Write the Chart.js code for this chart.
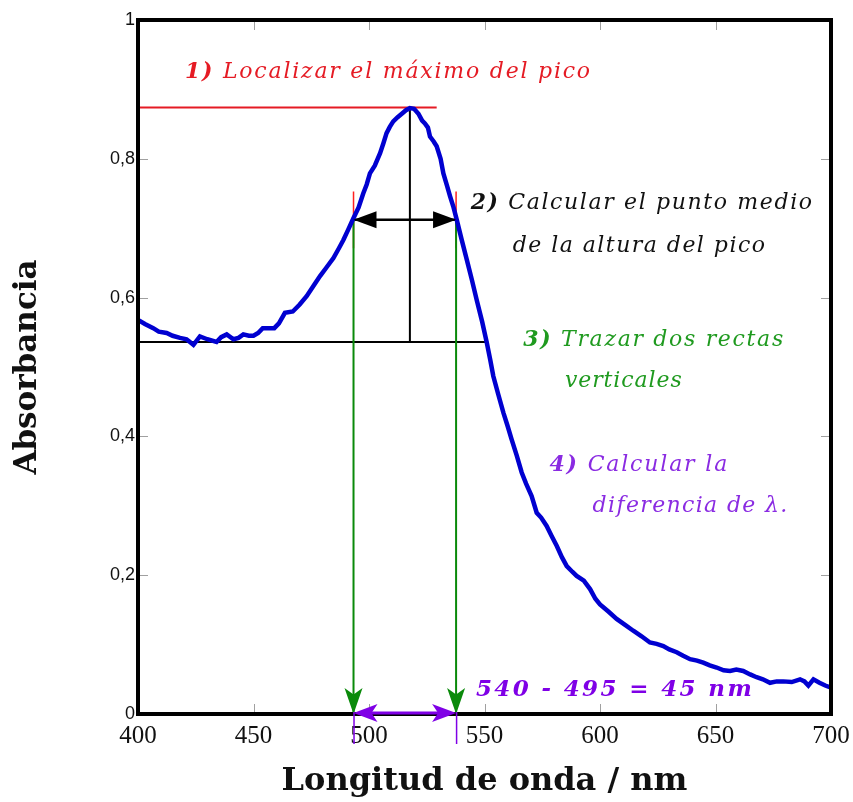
<!DOCTYPE html>
<html>
<head>
<meta charset="utf-8">
<script src="https://cdn.jsdelivr.net/npm/chart.js@4.4.0/dist/chart.umd.min.js"></script>
<style>
  html, body { margin: 0; padding: 0; background: #fff; }
</style>
</head>
<body>
<canvas id="chart1" width="853" height="802"></canvas>
<script>
// spectrum (nm, absorbance)
const wavelengths = [400, 403, 406.6, 409, 412.4, 415, 418.2, 421, 424, 426.8, 430, 434, 436, 438.4, 441.3, 443.5,
  445.6, 448, 450, 452, 454, 457, 459, 461, 463.6, 467, 470, 473, 476, 478.8, 481.5, 484.6, 486.8, 488.9, 491,
  493.2, 495.5, 497.5, 499, 500.4, 502.5, 504.8, 506.2, 507.6, 509, 510.5, 512.4, 514.2, 516, 517.7, 519.5,
  521.4, 523, 524.2, 525.5, 526.4, 528, 529.3, 531, 532.2, 533.7, 535.1, 536.6, 538, 540, 542.3, 544.5, 546.6,
  549, 551, 552.5, 553.8, 556, 558.2, 560, 561.7, 564, 566.1, 568, 570.4, 572.6, 574.5, 576.9, 579, 581.3,
  583.5, 585.6, 588, 589.9, 593, 595.7, 598, 600, 603.5, 607.2, 611, 614.4, 618, 621.6, 624.5, 627.4, 630,
  633.2, 636, 639, 642, 644.7, 647.5, 650.5, 653.5, 656.3, 659, 662, 665, 667.8, 670.5, 673.6, 676.5, 679.3,
  683, 686.6, 688.5, 690.2, 692.4, 695, 697.5, 700];
const absorbance = [0.568, 0.562, 0.556, 0.551, 0.549, 0.545, 0.542, 0.540, 0.532, 0.544, 0.540, 0.536, 0.543,
  0.547, 0.540, 0.542, 0.547, 0.545, 0.545, 0.549, 0.556, 0.556, 0.556, 0.563, 0.578, 0.580, 0.590, 0.602,
  0.617, 0.631, 0.643, 0.657, 0.670, 0.683, 0.698, 0.714, 0.730, 0.750, 0.763, 0.779, 0.790, 0.808, 0.822,
  0.837, 0.846, 0.854, 0.860, 0.865, 0.870, 0.873, 0.872, 0.865, 0.855, 0.851, 0.845, 0.832, 0.825, 0.818,
  0.800, 0.779, 0.762, 0.746, 0.730, 0.712, 0.685, 0.655, 0.626, 0.597, 0.565, 0.535, 0.510, 0.487, 0.460,
  0.434, 0.415, 0.396, 0.372, 0.348, 0.332, 0.314, 0.290, 0.283, 0.271, 0.257, 0.242, 0.226, 0.213, 0.205,
  0.199, 0.192, 0.180, 0.166, 0.158, 0.148, 0.137, 0.128, 0.120, 0.112, 0.103, 0.101, 0.098, 0.093, 0.089,
  0.084, 0.079, 0.077, 0.074, 0.070, 0.067, 0.063, 0.062, 0.064, 0.062, 0.057, 0.053, 0.050, 0.045, 0.047,
  0.047, 0.046, 0.050, 0.047, 0.041, 0.050, 0.045, 0.041, 0.038];

const xTicks = [400, 450, 500, 550, 600, 650, 700];
const yTicks = [0, 0.2, 0.4, 0.6, 0.8, 1];

// construction of the peak width
const peakX = 517.7, peakY = 0.874;
const baseY = 0.536, halfY = 0.712;
const leftX = 493.3, rightX = 537.7;
const redEndX = 529.3, baseEndX = 551.6;
const markTop = 0.753, markBottom = 0.671;

const notes = [
  { parts: [['1)', true], [' Localizar el máximo del pico', false]], x0: 420.3, x1: 595.7, y: 0.924, size: 22, color: '#e51b24' },
  { parts: [['2)', true], [' Calcular el punto medio', false]], x0: 544.0, x1: 691.8, y: 0.736, size: 22, color: '#111' },
  { parts: [['de la altura del pico', false]], x0: 562.2, x1: 671.4, y: 0.674, size: 22, color: '#111' },
  { parts: [['3)', true], [' Trazar dos rectas', false]], x0: 566.8, x1: 679.3, y: 0.539, size: 22, color: '#1f9a1f' },
  { parts: [['verticales', false]], x0: 584.8, x1: 635.4, y: 0.479, size: 22, color: '#1f9a1f' },
  { parts: [['4)', true], [' Calcular la', false]], x0: 578.1, x1: 655.1, y: 0.359, size: 22, color: '#8a2be2' },
  { parts: [['diferencia de λ.', false]], x0: 596.8, x1: 681.1, y: 0.299, size: 22, color: '#8a2be2' },
  { parts: [['540 - 495 = 45 nm', true]], x0: 546.3, x1: 665.7, y: 0.035, size: 23, color: '#7f00e6' }
];

const seg = (x1, y1, x2, y2) => [{ x: x1, y: y1 }, { x: x2, y: y2 }];
const lineSet = (data, color, width) => ({
  data: data, borderColor: color, borderWidth: width, pointRadius: 0, tension: 0, fill: false
});

function head(ctx, tx, ty, dx, dy, len, half, notch, color) {
  const bx = tx - dx * len, by = ty - dy * len;
  const nx = -dy, ny = dx;
  ctx.beginPath();
  ctx.moveTo(tx, ty);
  ctx.lineTo(bx + nx * half, by + ny * half);
  ctx.lineTo(tx - dx * len * (1 - notch), ty - dy * len * (1 - notch));
  ctx.lineTo(bx - nx * half, by - ny * half);
  ctx.closePath();
  ctx.fillStyle = color;
  ctx.fill();
}

function drawNote(ctx, note, x, y) {
  const fonts = note.parts.map(p => (p[1] ? 'italic bold ' : 'italic ') + note.size + 'px "DejaVu Serif"');
  const x0 = x.getPixelForValue(note.x0), x1 = x.getPixelForValue(note.x1);
  ctx.letterSpacing = '0px';
  let w = 0, n = 0;
  note.parts.forEach((p, i) => { ctx.font = fonts[i]; w += ctx.measureText(p[0]).width; n += p[0].length; });
  ctx.letterSpacing = ((x1 - x0 - w) / (n - 1)) + 'px';
  ctx.fillStyle = note.color;
  ctx.textAlign = 'left';
  ctx.textBaseline = 'middle';
  let px = x0;
  const py = y.getPixelForValue(note.y);
  note.parts.forEach((p, i) => {
    ctx.font = fonts[i];
    ctx.fillText(p[0], px, py);
    px += ctx.measureText(p[0]).width;
  });
  ctx.letterSpacing = '0px';
}

const decor = {
  id: 'decor',
  afterDatasetsDraw(chart) {
    const { ctx, chartArea: a, scales: { x, y } } = chart;
    ctx.save();
    // small inward ticks on all four sides
    ctx.strokeStyle = '#a0a0a0';
    ctx.lineWidth = 1;
    ctx.beginPath();
    xTicks.forEach(v => {
      const p = Math.round(x.getPixelForValue(v)) + 0.5;
      ctx.moveTo(p, a.bottom); ctx.lineTo(p, a.bottom - 10);
      ctx.moveTo(p, a.top); ctx.lineTo(p, a.top + 10);
    });
    yTicks.forEach(v => {
      const p = Math.round(y.getPixelForValue(v)) + 0.5;
      ctx.moveTo(a.left, p); ctx.lineTo(a.left + 10, p);
      ctx.moveTo(a.right, p); ctx.lineTo(a.right - 10, p);
    });
    ctx.stroke();

    // frame
    ctx.strokeStyle = '#000';
    ctx.lineWidth = 4;
    ctx.strokeRect(a.left, a.top, a.right - a.left, a.bottom - a.top);

    const lx = x.getPixelForValue(leftX), rx = x.getPixelForValue(rightX);
    const hy = y.getPixelForValue(halfY), y0 = y.getPixelForValue(0);

    // black double arrow at half height
    head(ctx, lx, hy, -1, 0, 23, 8.5, 0, '#000');
    head(ctx, rx, hy, 1, 0, 23, 8.5, 0, '#000');

    // green arrow heads at the axis
    head(ctx, lx, y0, 0, 1, 26, 9, 0.25, '#0a8a0a');
    head(ctx, rx, y0, 0, 1, 26, 9, 0.25, '#0a8a0a');

    // purple difference arrow
    ctx.strokeStyle = '#7f00e6';
    ctx.lineWidth = 1.5;
    ctx.beginPath();
    ctx.moveTo(lx + 0.5, y0 - 2); ctx.lineTo(lx + 0.5, y0 + 30);
    ctx.moveTo(rx + 0.5, y0 - 2); ctx.lineTo(rx + 0.5, y0 + 30);
    ctx.stroke();
    ctx.lineWidth = 3;
    ctx.beginPath();
    ctx.moveTo(lx + 10, y0 - 1); ctx.lineTo(rx - 10, y0 - 1);
    ctx.stroke();
    head(ctx, lx, y0 - 1, -1, 0, 24, 9, 0.25, '#7f00e6');
    head(ctx, rx, y0 - 1, 1, 0, 24, 9, 0.25, '#7f00e6');

    notes.forEach(n => drawNote(ctx, n, x, y));
    ctx.restore();
  }
};

const ctx1 = document.getElementById('chart1').getContext('2d');
const chart1 = new Chart(ctx1, {
  type: 'line',
  data: {
    datasets: [
      lineSet(wavelengths.map((w, i) => ({ x: w, y: absorbance[i] })), '#0000d0', 4.5),
      lineSet(seg(leftX, halfY, leftX, 0), '#0a8a0a', 2),
      lineSet(seg(rightX, halfY, rightX, 0), '#0a8a0a', 2),
      lineSet(seg(leftX, markTop, leftX, markBottom), '#ff2020', 1.5),
      lineSet(seg(rightX, markTop, rightX, markBottom), '#ff2020', 1.5),
      lineSet(seg(400, peakY, redEndX, peakY), '#e51b24', 2),
      lineSet(seg(400, baseY, baseEndX, baseY), '#000', 2),
      lineSet(seg(peakX, baseY, peakX, peakY), '#000', 2),
      lineSet(seg(leftX, halfY, rightX, halfY), '#000', 2.5)
    ]
  },
  options: {
    responsive: false,
    devicePixelRatio: 1,
    animation: false,
    layout: { padding: { top: 20, right: 22, bottom: 0, left: 0 } },
    plugins: { legend: { display: false }, tooltip: { enabled: false } },
    scales: {
      x: {
        type: 'linear',
        min: 400,
        max: 700,
        afterBuildTicks: s => { s.ticks = xTicks.map(v => ({ value: v })); },
        afterFit: s => { s.height = 88; s.paddingLeft = 0; s.paddingRight = 0; },
        grid: { display: false, drawTicks: false },
        border: { display: false },
        ticks: { padding: 7, color: '#111', font: { family: 'Liberation Serif', size: 25 }, maxRotation: 0 },
        title: {
          display: true,
          text: 'Longitud de onda / nm',
          color: '#111',
          font: { family: 'DejaVu Serif', size: 32, weight: 'bold' },
          padding: { top: 0, bottom: 1 }
        }
      },
      y: {
        type: 'linear',
        min: 0,
        max: 1,
        afterBuildTicks: s => { s.ticks = yTicks.map(v => ({ value: v })); },
        afterFit: s => { s.width = 138; s.paddingTop = 0; s.paddingBottom = 0; },
        grid: { display: false, drawTicks: false },
        border: { display: false },
        ticks: {
          padding: 3,
          color: '#111',
          font: { family: 'Liberation Sans', size: 18 },
          callback: v => String(Number(v.toFixed(1))).replace('.', ',')
        },
        title: {
          display: true,
          text: 'Absorbancia',
          color: '#111',
          font: { family: 'DejaVu Serif', size: 31, weight: 'bold' },
          padding: { top: 9, bottom: 0 }
        }
      }
    }
  },
  plugins: [decor]
});
</script>
</body>
</html>
